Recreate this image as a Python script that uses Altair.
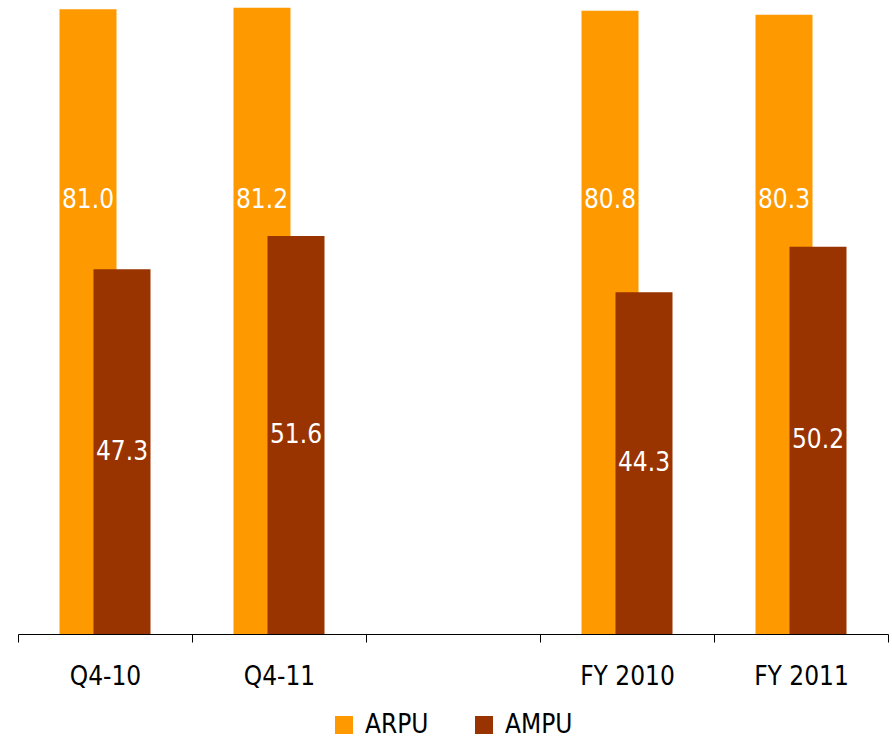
import altair as alt
import pandas as pd

categories = ["Q4-10", "Q4-11", " ", "FY 2010", "FY 2011"]
bar_categories = ["Q4-10", "Q4-11", "FY 2010", "FY 2011"]
arpu = [81.0, 81.2, 80.8, 80.3]
ampu = [47.3, 51.6, 44.3, 50.2]
series = ["ARPU", "AMPU"]
colors = ["#FF9900", "#993300"]

rows = []
for c, a, m in zip(bar_categories, arpu, ampu):
    rows.append({"cat": c, "series": "ARPU", "value": a})
    rows.append({"cat": c, "series": "AMPU", "value": m})
df = pd.DataFrame(rows)

FONT = "DejaVu Sans Condensed"

x_enc = alt.X(
    "cat:N",
    scale=alt.Scale(domain=categories, paddingInner=0, paddingOuter=0),
    sort=categories,
    axis=alt.Axis(
        title=None,
        labelAngle=0,
        tickBand="extent",
        tickSize=8,
        tickColor="#000000",
        domainColor="#000000",
        labelFont=FONT,
        labelFontSize=26,
        labelColor="#000000",
        labelPadding=21,
    ),
)
y_scale = alt.Scale(domain=[0, 82.2], nice=False, zero=True)
y_enc = alt.Y("value:Q", scale=y_scale, axis=None)
color_enc = alt.Color(
    "series:N",
    scale=alt.Scale(domain=series, range=colors),
    legend=alt.Legend(
        title=None,
        orient="none",
        legendX=313,
        legendY=712,
        direction="horizontal",
        symbolType="square",
        symbolSize=324,
        symbolStrokeWidth=0,
        labelFont=FONT,
        labelFontSize=26,
        labelColor="#000000",
        labelOffset=8,
        columnPadding=42,
    ),
)

base = alt.Chart(df)

arpu_bars = base.transform_filter(alt.datum.series == "ARPU").mark_bar(
    width=57, xOffset=-17
).encode(x=x_enc, y=y_enc, color=color_enc)

ampu_bars = base.transform_filter(alt.datum.series == "AMPU").mark_bar(
    width=57, xOffset=17
).encode(x=x_enc, y=y_enc, color=color_enc)

arpu_labels = base.transform_filter(alt.datum.series == "ARPU").mark_text(
    xOffset=-17, font=FONT, fontSize=26, color="white", baseline="middle"
).encode(x=x_enc, y=alt.value(200), text=alt.Text("value:Q", format=".1f"))

ampu_labels = base.transform_filter(alt.datum.series == "AMPU").transform_calculate(
    mid="datum.value / 2"
).mark_text(
    xOffset=17, font=FONT, fontSize=26, color="white", baseline="middle"
).encode(
    x=x_enc,
    y=alt.Y("mid:Q", scale=y_scale, axis=None),
    text=alt.Text("value:Q", format=".1f"),
)

chart = (
    alt.layer(arpu_bars, ampu_bars, arpu_labels, ampu_labels)
    .properties(
        width=870,
        height=634,
        padding={"left": 18, "top": 0, "right": 4, "bottom": 107},
        autosize=alt.AutoSizeParams(type="none"),
        background="white",
    )
    .configure_view(stroke=None)
)

chart.save("out.html", embed_options={"renderer": "svg", "actions": False})
